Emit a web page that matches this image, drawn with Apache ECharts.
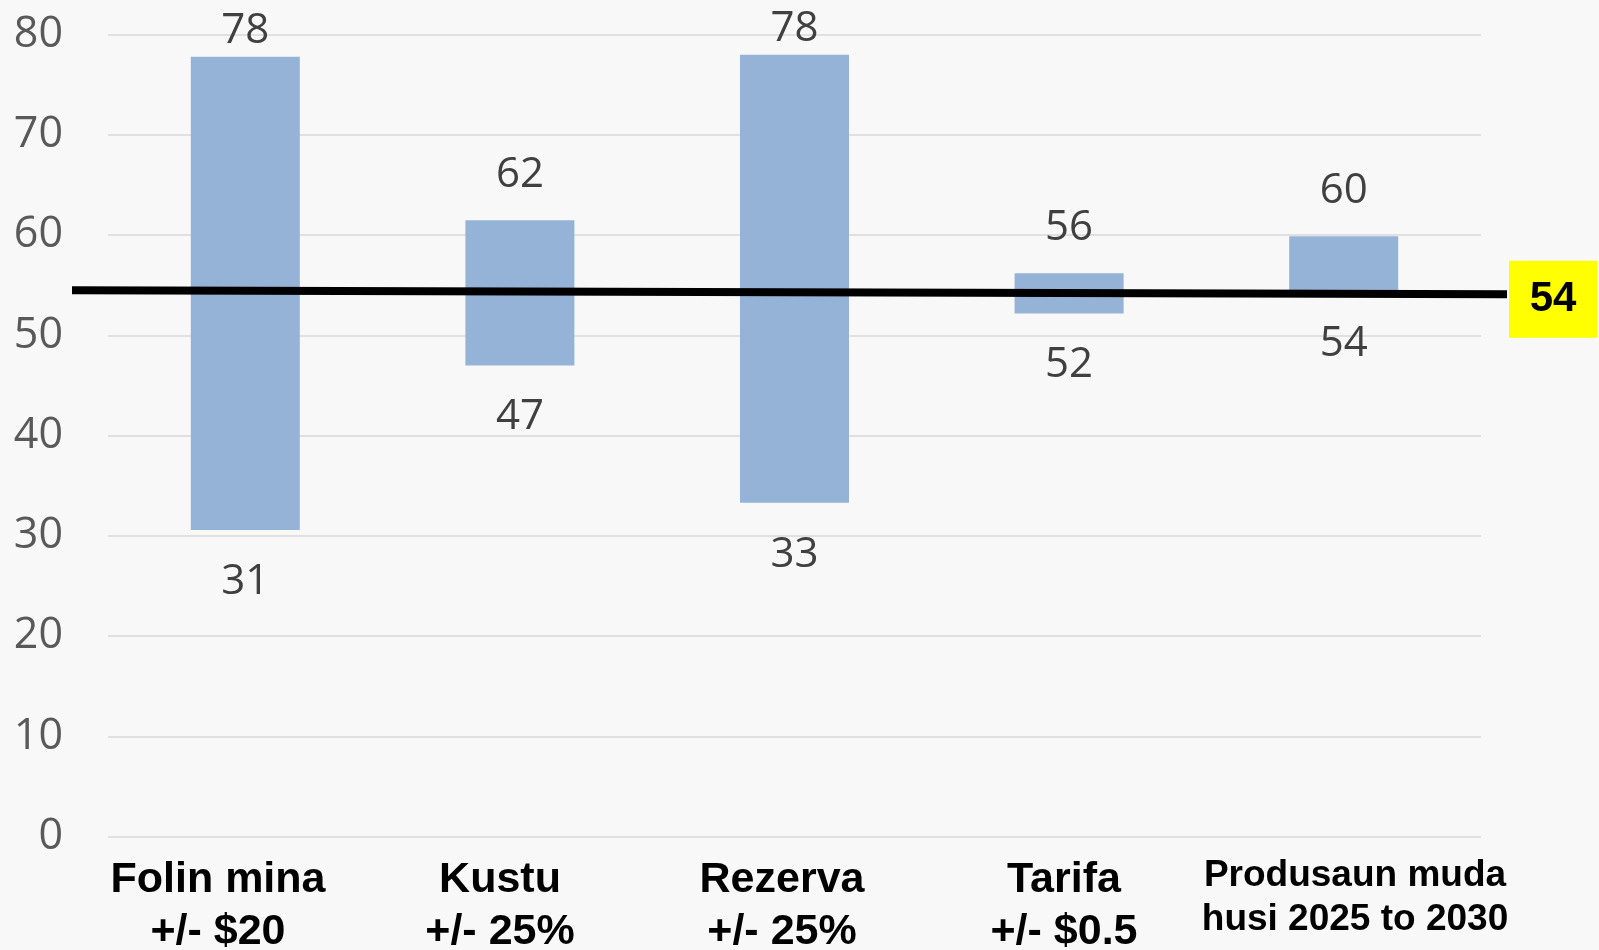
<!DOCTYPE html>
<html>
<head>
<meta charset="utf-8">
<script src="https://cdn.jsdelivr.net/npm/echarts@6/dist/echarts.min.js"></script>
<style>
html,body{margin:0;padding:0;background:#f8f8f8;}
#chart{width:1599px;height:950px;}
</style>
</head>
<body>
<div id="chart"></div>
<script>
const categories = ['Folin mina\n+/- $20', 'Kustu\n+/- 25%', 'Rezerva\n+/- 25%', 'Tarifa\n+/- $0.5', 'Produsaun muda\nhusi 2025 to 2030'];
const lowValues = [30.6, 47.0, 33.3, 52.2, 54.3];
const highValues = [77.8, 61.5, 78.0, 56.2, 59.9];
const baseLine = [54.5, 54.1];
const baseLabel = 54;
const yTicks = [0, 10, 20, 30, 40, 50, 60, 70, 80];

const chart = echarts.init(document.getElementById('chart'));
const numFont = "'Open Sans', 'Noto Sans', sans-serif";
const catFont = "'Liberation Sans', Arial, sans-serif";

const diffData = highValues.map((h, i) => ({
  value: +(h - lowValues[i]).toFixed(2),
  label: { distance: h > 75 ? 5 : 24 }
}));

const option = {
  backgroundColor: '#f8f8f8',
  animation: false,
  grid: [
    { left: 108, right: 118, top: 34.7, bottom: 113.3, outerBoundsMode: 'none' },
    { left: 72, right: 92, top: 34.7, bottom: 113.3, outerBoundsMode: 'none' },
    { left: 77, right: 112, top: 34.7, bottom: 113.3, outerBoundsMode: 'none' }
  ],
  xAxis: [
    { type: 'category', gridIndex: 0, data: categories, axisLine: { show: false }, axisTick: { show: false }, axisLabel: { show: false } },
    { type: 'value', gridIndex: 1, min: 0, max: 1, show: false },
    { type: 'category', gridIndex: 2, data: categories, axisLine: { show: false }, axisTick: { show: false },
      axisLabel: {
        interval: 0, margin: 17,
        formatter: (v, i) => v.split('\n').map(s => '{' + (i === 4 ? 's' : 'b') + '|' + s + '}').join('\n'),
        rich: {
          b: { fontFamily: catFont, fontWeight: 'bold', fontSize: 43, lineHeight: 52, color: '#000' },
          s: { fontFamily: catFont, fontWeight: 'bold', fontSize: 37, lineHeight: 44, color: '#000', padding: [0, 0, 0, 18] }
        }
      }
    }
  ],
  yAxis: [
    { type: 'value', gridIndex: 0, min: yTicks[0], max: yTicks[yTicks.length - 1], interval: 10,
      axisLine: { show: false }, axisTick: { show: false },
      splitLine: { lineStyle: { color: '#d9d9d9', width: 1.5 } },
      axisLabel: { margin: 45, fontFamily: numFont, fontSize: 43, color: '#595959' } },
    { type: 'value', gridIndex: 1, min: 0, max: 80, show: false },
    { type: 'value', gridIndex: 2, min: 0, max: 80, show: false }
  ],
  series: [
    {
      type: 'bar', xAxisIndex: 0, yAxisIndex: 0, stack: 'r', barWidth: 109,
      data: lowValues,
      itemStyle: { color: 'transparent' },
      label: { show: true, position: 'insideTop', distance: 31, fontFamily: numFont, fontSize: 42, color: '#404040',
        formatter: p => Math.round(lowValues[p.dataIndex]) }
    },
    {
      type: 'bar', xAxisIndex: 0, yAxisIndex: 0, stack: 'r', barWidth: 109,
      data: diffData,
      itemStyle: { color: '#95b3d7' },
      label: { show: true, position: 'top', fontFamily: numFont, fontSize: 42, color: '#404040',
        formatter: p => Math.round(highValues[p.dataIndex]) },
      z: 3
    },
    {
      type: 'line', xAxisIndex: 1, yAxisIndex: 1,
      data: [[0, baseLine[0]], [1, baseLine[1]]],
      showSymbol: false, symbol: 'none',
      lineStyle: { color: '#000', width: 8 },
      z: 4,
      endLabel: {
        show: true, distance: 2, offset: [0, 5],
        formatter: () => '{a|' + baseLabel + '}',
        rich: {
          a: { backgroundColor: '#ffff00', width: 88, height: 77, lineHeight: 77, align: 'center',
               fontFamily: "'Liberation Sans', Arial, sans-serif", fontWeight: 'bold', fontSize: 42, color: '#000' }
        }
      }
    }
  ]
};
chart.setOption(option);
</script>
</body>
</html>
